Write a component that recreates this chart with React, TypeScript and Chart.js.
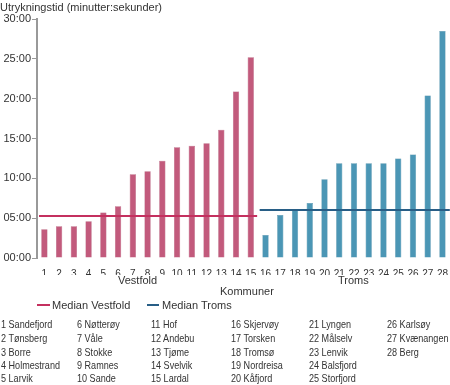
import React, { useEffect, useRef } from "react";
import { Chart, registerables } from "chart.js";

Chart.register(...registerables);

const categories = Array.from({ length: 28 }, (_, i) => String(i + 1));
const vestfoldValues = [3.6, 4.0, 4.0, 4.6, 5.7, 6.5, 10.5, 10.9, 12.2, 13.9, 14.1, 14.4, 16.1, 20.9, 25.2];
const tromsValues = [2.9, 5.4, 6.0, 6.9, 9.9, 11.9, 11.9, 11.9, 11.9, 12.5, 13.0, 20.4, 28.5];
const medianVestfold = 5.3;
const medianTroms = 6.0;
const yTicks = [0, 5, 10, 15, 20, 25, 30];
const names = [
  "Sandefjord", "Tønsberg", "Borre", "Holmestrand", "Larvik",
  "Nøtterøy", "Våle", "Stokke", "Ramnes", "Sande",
  "Hof", "Andebu", "Tjøme", "Svelvik", "Lardal",
  "Skjervøy", "Torsken", "Tromsø", "Nordreisa", "Kåfjord",
  "Lyngen", "Målselv", "Lenvik", "Balsfjord", "Storfjord",
  "Karlsøy", "Kvænangen", "Berg",
];

const V_BAR = "#c25a7c";
const V_BAR_EDGE = "#a84566";
const T_BAR = "#4b96b5";
const T_BAR_EDGE = "#387f9d";
const V_LINE = "#c4305f";
const T_LINE = "#285e86";
const TEXT = "#333";
const FONT = "'Liberation Sans', Arial, sans-serif";

const pad2 = (n: number) => (n < 10 ? "0" + n : String(n));

const medianPlugin = {
  id: "medianLines",
  afterDatasetsDraw(chart: any) {
    const { ctx, chartArea } = chart;
    const x = chart.scales.x;
    const y = chart.scales.y;
    const nV = vestfoldValues.length;
    const split = (x.getPixelForValue(nV - 1) + x.getPixelForValue(nV)) / 2;
    ctx.save();
    ctx.lineWidth = 2;
    ctx.strokeStyle = V_LINE;
    ctx.beginPath();
    const yv = Math.round(y.getPixelForValue(medianVestfold));
    ctx.moveTo(chartArea.left + 2, yv);
    ctx.lineTo(split - 1, yv);
    ctx.stroke();
    ctx.strokeStyle = T_LINE;
    ctx.beginPath();
    const yt = Math.round(y.getPixelForValue(medianTroms));
    ctx.moveTo(split + 1.5, yt);
    ctx.lineTo(chartArea.right, yt);
    ctx.stroke();
    ctx.restore();
  },
};

function ChartCanvas() {
  const ref = useRef<HTMLCanvasElement>(null);
  useEffect(() => {
    if (!ref.current) return;
    const data = [...vestfoldValues, ...tromsValues];
    const bg = data.map((_, i) => (i < vestfoldValues.length ? V_BAR : T_BAR));
    const bc = data.map((_, i) => (i < vestfoldValues.length ? V_BAR_EDGE : T_BAR_EDGE));
    const chart = new Chart(ref.current, {
      type: "bar",
      data: {
        labels: categories,
        datasets: [
          {
            data,
            backgroundColor: bg,
            borderColor: bc,
            borderWidth: 0.5,
            barPercentage: 0.85,
            categoryPercentage: 0.5,
          },
        ],
      },
      options: {
        animation: false,
        responsive: false,
        maintainAspectRatio: false,
        layout: { padding: { top: 19, left: 0, right: 0, bottom: 0 } },
        plugins: { legend: { display: false }, tooltip: { enabled: false } },
        scales: {
          x: {
            grid: { display: false },
            border: { display: false },
            ticks: {
              color: TEXT,
              font: { family: FONT, size: 10 },
              padding: 2,
              maxRotation: 0,
              autoSkip: false,
            },
            afterFit: (s: any) => {
              s.height = 17;
            },
          },
          y: {
            min: 0,
            max: 30,
            afterBuildTicks: (s: any) => {
              s.ticks = yTicks.map((v) => ({ value: v }));
            },
            grid: {
              drawOnChartArea: false,
              drawTicks: true,
              tickLength: 5,
              color: "#999",
            },
            border: { display: true, color: "#999", width: 2 },
            ticks: {
              color: TEXT,
              font: { family: FONT, size: 11 },
              padding: 1,
              callback: (v: any) => pad2(Number(v)) + ":00",
            },
            afterFit: (s: any) => {
              s.width = 37;
            },
          },
        },
      },
      plugins: [medianPlugin],
    });
    return () => chart.destroy();
  }, []);
  return <canvas ref={ref} width={450} height={275} style={{ position: "absolute", left: 0, top: 0 }} />;
}

const txt = (
  text: string,
  left: number,
  centerY: number,
  size: number,
  extra: React.CSSProperties = {}
) => (
  <div
    key={text + left + centerY}
    style={{
      position: "absolute",
      left,
      top: centerY - 7,
      height: 14,
      lineHeight: "14px",
      fontSize: size,
      fontFamily: FONT,
      color: TEXT,
      whiteSpace: "nowrap",
      ...extra,
    }}
  >
    {text}
  </div>
);

export default function App() {
  const colX = [1, 77, 151, 231, 309, 387];
  const rowY = [325, 339, 352.5, 366, 379];
  return (
    <div
      style={{
        position: "fixed",
        left: 0,
        top: 0,
        width: 450,
        height: 385,
        background: "#fff",
        overflow: "hidden",
      }}
    >
      <ChartCanvas />
      {txt("Utrykningstid (minutter:sekunder)", 0, 7, 11)}
      {txt("Vestfold", 118, 280, 11)}
      {txt("Troms", 338, 280, 11)}
      {txt("Kommuner", 220, 291, 11)}
      <div style={{ position: "absolute", left: 37, top: 304, width: 13, height: 2, background: V_LINE }} />
      {txt("Median Vestfold", 52, 305, 11)}
      <div style={{ position: "absolute", left: 147, top: 304, width: 12, height: 2, background: T_LINE }} />
      {txt("Median Troms", 162, 305, 11)}
      {names.map((n, i) =>
        txt(`${i + 1} ${n}`, colX[Math.floor(i / 5)], rowY[i % 5], 10.2, {
          transform: "scaleX(0.89)",
          transformOrigin: "left center",
        })
      )}
    </div>
  );
}
